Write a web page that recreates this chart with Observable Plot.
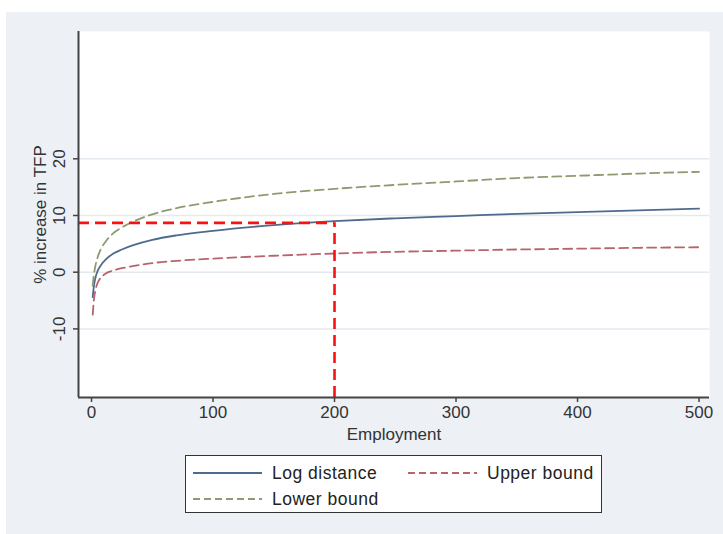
<!DOCTYPE html>
<html>
<head>
<meta charset="utf-8">
<script src="https://cdn.jsdelivr.net/npm/d3@7"></script>
<script src="https://cdn.jsdelivr.net/npm/@observablehq/plot@0.6"></script>
<style>
  html, body { margin: 0; padding: 0; background: #ffffff; }
  #wrap { position: relative; width: 723px; height: 534px; overflow: hidden; font-family: "Liberation Sans", Arial, sans-serif; }
  #panel { position: absolute; left: 6px; top: 12px; right: 0; bottom: 0; background: #edf0f5; }
  #chart { position: absolute; left: 0; top: 0; }
  #legend { position: absolute; left: 185px; top: 455px; width: 415px; height: 56px; background: #fff; border: 1.5px solid #333; }
  .item { position: absolute; display: flex; align-items: center; font-size: 17.5px; letter-spacing: 0.5px; color: #222; height: 22px; }
  .item svg { margin-right: 10px; }
</style>
</head>
<body>
<div id="wrap">
  <div id="panel"></div>
  <div id="chart"></div>
  <div id="legend"></div>
</div>
<script>
// ---- data ----
const employment = [1, 2, 3, 5, 8, 12, 18, 25, 35, 50, 70, 100, 150, 200, 250, 300, 350, 400, 450, 500];
const logDistance = [-4.4, -2.4, -1.2, 0.2, 1.3, 2.3, 3.3, 4.0, 4.8, 5.7, 6.5, 7.3, 8.3, 9.0, 9.5, 9.9, 10.3, 10.6, 10.9, 11.2];
const upperBound = [-7.5, -4.8, -3.4, -1.9, -0.9, -0.2, 0.3, 0.7, 1.1, 1.6, 2.0, 2.4, 2.9, 3.3, 3.6, 3.8, 4.0, 4.15, 4.3, 4.4];
const lowerBound = [-2.4, -0.4, 0.9, 2.6, 4.2, 5.5, 6.9, 7.9, 9.0, 10.2, 11.3, 12.4, 13.8, 14.7, 15.4, 16.0, 16.6, 17.0, 17.4, 17.7];
const seriesNames = ["Log distance", "Upper bound", "Lower bound"];
const seriesColors = ["#4e6b8d", "#b8646e", "#8d9b70"];
const seriesDash = [null, "9,5", "9,5"];
const xTicks = [0, 100, 200, 300, 400, 500];
const yTicks = [-10, 0, 10, 20];
const xDomain = [-10.7, 508.6];
const yDomain = [-22.1, 42.45];
const refEmployment = [200];
const refTFP = [8.7];
const xLabel = "Employment";
const yLabel = "% increase in TFP";

const seriesValues = [logDistance, upperBound, lowerBound];
const rows = seriesNames.flatMap((name, s) =>
  employment.map((e, i) => ({name, employment: e, value: seriesValues[s][i]})));

const lineMarks = seriesNames.map((name, s) =>
  Plot.line(rows.filter(d => d.name === name), {
    x: "employment", y: "value",
    stroke: seriesColors[s], strokeWidth: 1.8,
    strokeDasharray: seriesDash[s] || undefined,
    curve: "monotone-x"
  }));

const chart = Plot.plot({
  width: 723, height: 534,
  marginLeft: 78, marginRight: 14, marginTop: 31, marginBottom: 137,
  x: {domain: xDomain},
  y: {domain: yDomain},
  style: {background: "transparent", fontFamily: "Liberation Sans, Arial, sans-serif", fontSize: "17px", color: "#333"},
  marks: [
    Plot.frame({fill: "white", stroke: null}),
    Plot.gridY(yTicks, {stroke: "#e4e9f0", strokeOpacity: 1, strokeWidth: 1.5}),
    ...lineMarks,
    Plot.ruleY(refTFP, {x1: xDomain[0], x2: refEmployment[0], stroke: "#ff1010", strokeWidth: 2.6, strokeDasharray: "11,6"}),
    Plot.ruleX(refEmployment, {y1: yDomain[0], y2: refTFP[0], stroke: "#ff1010", strokeWidth: 2.6, strokeDasharray: "11,6"}),
    Plot.axisY(yTicks, {tickRotate: -90, textAnchor: "middle", lineAnchor: "bottom", tickSize: 5, tickPadding: 9, tickFormat: d => String(d), label: null, fontSize: 17, stroke: "#444", strokeWidth: 1.5, fill: "#333"}),
    Plot.axisX(xTicks, {tickSize: 5, tickPadding: 3, tickFormat: d => String(d), label: null, fontSize: 17, stroke: "#444", strokeWidth: 1.5, fill: "#333"}),
    Plot.ruleX([xDomain[0]], {stroke: "#444", strokeWidth: 2}),
    Plot.ruleY([yDomain[0]], {stroke: "#444", strokeWidth: 2}),
    Plot.text([yLabel], {frameAnchor: "left", textAnchor: "middle", rotate: -90, dx: -38, fontSize: 17, fill: "#333"}),
    Plot.text([xLabel], {frameAnchor: "bottom", dy: 42, fontSize: 17, fill: "#333"})
  ]
});
document.getElementById("chart").appendChild(chart);

// ---- legend ----
const legend = document.getElementById("legend");
const legendPos = [[7, 6], [222, 6], [7, 32]];
seriesNames.forEach((name, s) => {
  const div = document.createElement("div");
  div.className = "item";
  div.style.left = legendPos[s][0] + "px";
  div.style.top = legendPos[s][1] + "px";
  const dash = s === 0 ? "" : `stroke-dasharray="7,4"`;
  div.innerHTML = `<svg width="69" height="6"><line x1="0" y1="3" x2="69" y2="3" stroke="${seriesColors[s]}" stroke-width="1.8" ${dash}/></svg><span>${name}</span>`;
  legend.appendChild(div);
});
</script>
</body>
</html>
